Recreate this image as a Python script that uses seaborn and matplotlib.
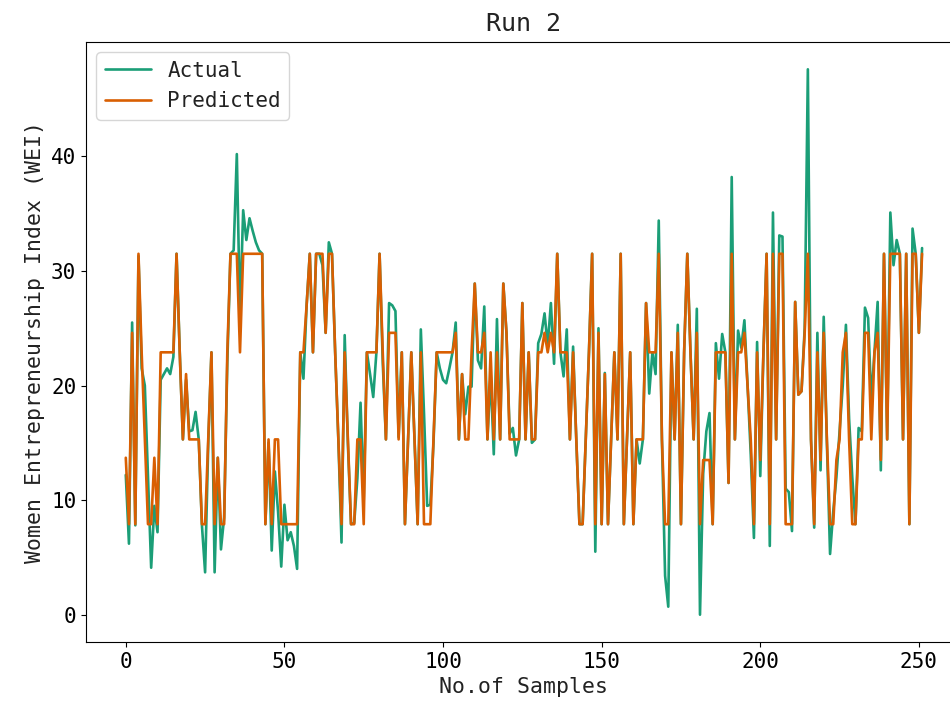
import numpy as np
import pandas as pd
import matplotlib
matplotlib.use("Agg")
import matplotlib.pyplot as plt
import seaborn as sns

# values (one per sample, index 0..251)
actual = [
    12.2, 6.2, 25.5, 7.8, 31.3, 21.5, 20.0, 12.0, 4.1, 9.5,
    7.2, 20.5, 21.0, 21.5, 21.0, 22.5, 31.5, 23.0, 15.3, 20.5,
    16.0, 16.1, 17.7, 15.3, 7.8, 3.7, 15.0, 22.9, 3.7, 13.7,
    5.7, 8.5, 22.0, 31.5, 31.8, 40.2, 26.0, 35.3, 32.7, 34.6,
    33.5, 32.5, 31.8, 31.5, 7.9, 15.0, 5.6, 12.5, 9.0, 4.2,
    9.6, 6.5, 7.2, 6.0, 4.0, 22.9, 20.6, 27.0, 31.5, 22.9,
    31.5, 31.5, 30.5, 24.6, 32.5, 31.5, 22.9, 15.3, 6.3, 24.4,
    15.0, 7.9, 8.0, 11.9, 18.5, 10.0, 22.9, 21.0, 19.0, 22.9,
    31.5, 22.0, 15.3, 27.2, 27.0, 26.5, 15.5, 22.9, 7.9, 15.3,
    22.9, 15.5, 7.9, 24.9, 17.6, 9.5, 9.6, 15.0, 22.9, 21.5,
    20.5, 20.2, 21.5, 22.9, 25.5, 15.3, 21.0, 17.5, 19.9, 19.9,
    28.9, 22.2, 21.5, 26.9, 15.3, 21.0, 14.0, 25.8, 15.3, 28.9,
    24.6, 15.8, 16.3, 13.9, 15.3, 27.2, 15.3, 22.9, 15.0, 15.3,
    23.7, 24.5, 26.3, 23.5, 27.2, 21.9, 31.5, 22.9, 20.8, 24.9,
    15.3, 23.4, 15.3, 7.9, 7.9, 15.3, 22.9, 31.5, 5.5, 25.0,
    7.9, 21.1, 7.9, 15.3, 22.9, 15.3, 31.5, 7.9, 15.3, 22.9,
    7.9, 15.3, 13.2, 15.3, 27.2, 19.3, 22.9, 21.0, 34.4, 15.3,
    3.4, 0.7, 22.9, 15.3, 25.3, 7.9, 22.9, 31.5, 22.9, 15.3,
    26.7, 0.0, 12.3, 16.0, 17.6, 7.9, 23.7, 20.6, 24.5, 22.9,
    11.5, 38.2, 15.3, 24.8, 23.3, 25.7, 20.0, 14.0, 6.7, 23.8,
    12.1, 22.9, 31.5, 6.0, 35.1, 15.3, 33.1, 33.0, 11.0, 10.7,
    7.3, 27.3, 19.2, 19.5, 25.0, 47.6, 15.3, 7.6, 24.6, 12.6,
    26.0, 15.0, 5.3, 9.0, 12.0, 16.0, 20.0, 25.3, 17.1, 12.0,
    7.9, 16.3, 16.0, 26.8, 25.9, 18.6, 23.0, 27.3, 12.6, 31.5,
    15.3, 35.1, 30.5, 32.7, 31.5, 15.3, 31.5, 7.9, 33.7, 31.5,
    24.6, 32.0,
]

predicted = [
    13.7, 7.9, 24.6, 7.9, 31.5, 22.9, 15.3, 7.9, 7.9, 13.7,
    7.9, 22.9, 22.9, 22.9, 22.9, 22.9, 31.5, 22.9, 15.3, 21.0,
    15.3, 15.3, 15.3, 15.3, 7.9, 7.9, 15.3, 22.9, 7.9, 13.7,
    7.9, 7.9, 22.9, 31.5, 31.5, 31.5, 22.9, 31.5, 31.5, 31.5,
    31.5, 31.5, 31.5, 31.5, 7.9, 15.3, 7.9, 15.3, 15.3, 7.9,
    7.9, 7.9, 7.9, 7.9, 7.9, 22.9, 22.9, 27.0, 31.5, 22.9,
    31.5, 31.5, 31.5, 24.6, 31.5, 31.5, 22.9, 15.3, 7.9, 22.9,
    15.3, 7.9, 7.9, 15.3, 15.3, 7.9, 22.9, 22.9, 22.9, 22.9,
    31.5, 22.9, 15.3, 24.6, 24.6, 24.6, 15.3, 22.9, 7.9, 15.3,
    22.9, 15.3, 7.9, 22.9, 7.9, 7.9, 7.9, 15.3, 22.9, 22.9,
    22.9, 22.9, 22.9, 22.9, 24.6, 15.3, 21.0, 15.3, 15.3, 22.9,
    28.9, 22.9, 22.9, 24.6, 15.3, 22.9, 15.3, 22.9, 15.3, 28.9,
    24.6, 15.3, 15.3, 15.3, 15.3, 27.2, 15.3, 22.9, 15.3, 15.3,
    22.9, 22.9, 24.6, 22.9, 24.6, 22.9, 31.5, 22.9, 22.9, 22.9,
    15.3, 22.9, 15.3, 7.9, 7.9, 15.3, 22.9, 31.5, 7.9, 24.6,
    7.9, 21.0, 7.9, 15.3, 22.9, 15.3, 31.5, 7.9, 15.3, 22.9,
    7.9, 15.3, 15.3, 15.3, 27.2, 22.9, 22.9, 22.9, 31.5, 15.3,
    7.9, 7.9, 22.9, 15.3, 24.6, 7.9, 22.9, 31.5, 22.9, 15.3,
    24.6, 7.9, 13.5, 13.5, 13.5, 7.9, 22.9, 22.9, 22.9, 22.9,
    11.5, 31.5, 15.3, 22.9, 22.9, 24.6, 20.0, 15.3, 7.9, 22.9,
    13.5, 22.9, 31.5, 7.9, 31.5, 15.3, 31.5, 31.5, 7.9, 7.9,
    7.9, 27.3, 19.2, 19.5, 24.6, 31.5, 15.3, 7.9, 22.9, 13.5,
    24.6, 15.3, 7.9, 7.9, 13.5, 15.3, 22.9, 24.6, 15.3, 7.9,
    7.9, 15.3, 15.3, 24.6, 24.6, 15.3, 22.9, 24.6, 13.5, 31.5,
    15.3, 31.5, 31.5, 31.5, 31.5, 15.3, 31.5, 7.9, 31.5, 31.5,
    24.6, 31.5,
]

series_names = ["Actual", "Predicted"]

df = pd.DataFrame({
    "sample": np.concatenate([np.arange(len(actual)), np.arange(len(predicted))]),
    "value": actual + predicted,
    "series": [series_names[0]] * len(actual) + [series_names[1]] * len(predicted),
})

sns.set_style("ticks", {"axes.edgecolor": "black", "xtick.color": "black",
                        "ytick.color": "black", "text.color": "#222222",
                        "axes.labelcolor": "#222222"})
plt.rcParams["font.family"] = ["DejaVu Sans Mono", "DejaVu Sans"]

fig = plt.figure(figsize=(9.5, 7.1), dpi=100)
# axes run slightly past the right edge, as in the reference crop
ax = fig.add_axes([0.0905, 0.0958, 0.922, 0.845])

sns.lineplot(data=df, x="sample", y="value", hue="series",
             palette="Dark2", linewidth=1.9, ax=ax)

ax.set_title("Run 2", fontsize=18, pad=8)
ax.set_xlabel("No.of Samples", fontsize=15.5)
ax.set_ylabel("Women Entrepreneurship Index (WEI)", fontsize=15.5)
ax.tick_params(labelsize=15)
ax.set_yticks([0, 10, 20, 30, 40])

leg = ax.legend(loc="upper left", fontsize=15, title=None, handlelength=2.2)

fig.savefig("out.png", dpi=100)
